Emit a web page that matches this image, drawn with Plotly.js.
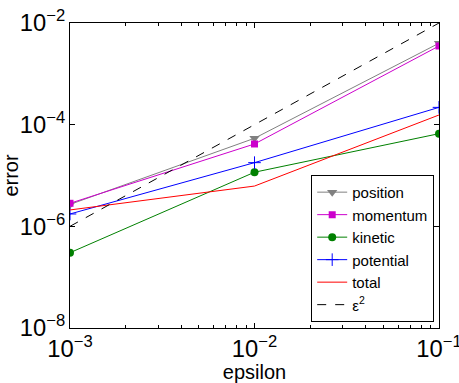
<!DOCTYPE html>
<html>
<head>
<meta charset="utf-8">
<script src="https://cdn.plot.ly/plotly-3.0.1.min.js"></script>
<style>html,body{margin:0;padding:0;background:#fff;}#plot{width:459px;height:383px;}</style>
</head>
<body>
<div id="plot"></div>
<script>
const epsilon = [1e-3, 1e-2, 1e-1];
const position = [2.7e-6, 5.4e-5, 4.0e-3];
const momentum = [2.84e-6, 4.17e-5, 3.53e-3];
const kinetic = [3.03e-7, 1.16e-5, 6.65e-5];
const potential = [1.75e-6, 1.79e-5, 2.19e-4];
const total = [2.1e-6, 6.2e-6, 1.55e-4];
const epsSquared = [1e-6, 1e-4, 1e-2];
const seriesNames = ["position", "momentum", "kinetic", "potential", "total", "ε<sup>2</sup>"];

const traces = [
  {x: epsilon, y: position, name: seriesNames[0], mode: "lines+markers",
   line: {color: "rgb(128,128,128)", width: 1},
   marker: {symbol: "triangle-down", size: 9, color: "rgb(128,128,128)"}},
  {x: epsilon, y: momentum, name: seriesNames[1], mode: "lines+markers",
   line: {color: "rgb(204,0,204)", width: 1},
   marker: {symbol: "square", size: 7, color: "rgb(204,0,204)"}},
  {x: epsilon, y: kinetic, name: seriesNames[2], mode: "lines+markers",
   line: {color: "rgb(0,128,0)", width: 1},
   marker: {symbol: "circle", size: 8, color: "rgb(0,128,0)"}},
  {x: epsilon, y: potential, name: seriesNames[3], mode: "lines+markers",
   line: {color: "rgb(0,0,255)", width: 1},
   marker: {symbol: "cross-thin", size: 9, color: "rgb(0,0,255)", line: {color: "rgb(0,0,255)", width: 1}}},
  {x: epsilon, y: total, name: seriesNames[4], mode: "lines",
   line: {color: "rgb(255,0,0)", width: 1}},
  {x: epsilon, y: epsSquared, name: seriesNames[5], mode: "lines",
   line: {color: "black", width: 1, dash: "dash"}}
];

const fontFam = "Liberation Sans, Arial, Helvetica, sans-serif";
const layout = {
  width: 459, height: 383,
  margin: {l: 70, r: 20, t: 23, b: 55},
  paper_bgcolor: "white", plot_bgcolor: "white",
  font: {family: fontFam, color: "black", size: 19},
  showlegend: true,
  legend: {x: 0.987, y: 0.02, xanchor: "right", yanchor: "bottom",
           bgcolor: "white", bordercolor: "black", borderwidth: 1,
           font: {family: fontFam, size: 15, color: "black"},
           itemwidth: 30, tracegroupgap: 0},
  xaxis: {type: "log", range: [-3.00001, -0.99999], dtick: 1, exponentformat: "power",
          ticklabeloverflow: "allow",
          showgrid: false, zeroline: false, showline: true, linecolor: "black", linewidth: 1,
          mirror: "allticks", ticks: "inside", ticklen: 5, tickcolor: "black",
          tickfont: {size: 19},
          minor: {ticks: "inside", ticklen: 3, tickcolor: "black", dtick: "D1", showgrid: false},
          title: {text: "epsilon", font: {size: 20}, standoff: 0}},
  yaxis: {type: "log", range: [-8, -2], dtick: 2, tick0: 0, exponentformat: "power",
          ticklabeloverflow: "allow",
          showgrid: false, zeroline: false, showline: true, linecolor: "black", linewidth: 1,
          mirror: "allticks", ticks: "inside", ticklen: 5, tickcolor: "black",
          tickfont: {size: 19},
          title: {text: "error", font: {size: 20}, standoff: 2}}
};

Plotly.newPlot("plot", traces, layout, {staticPlot: true, displayModeBar: false});
</script>
</body>
</html>
